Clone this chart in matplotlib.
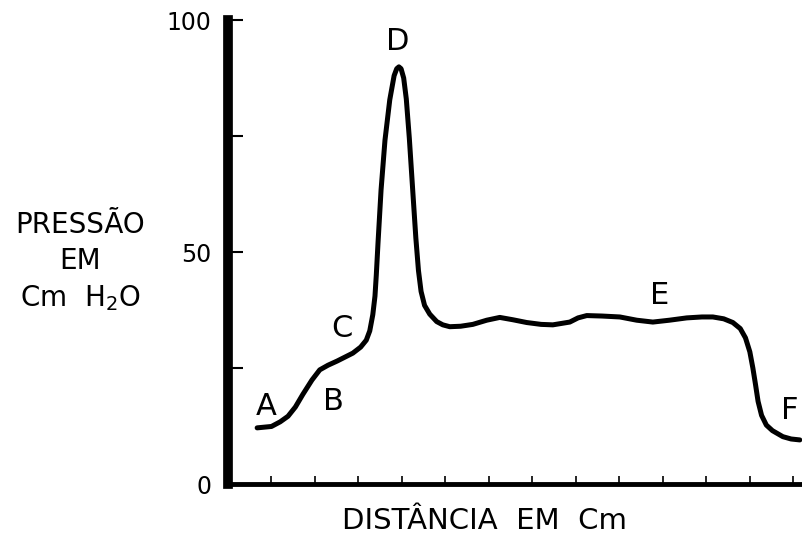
import matplotlib
matplotlib.use("Agg")
import matplotlib.pyplot as plt

# Curva de pressão (distância em cm, pressão em cm H2O)
distancia = [0.67, 1.00, 1.20, 1.38, 1.55, 1.72, 1.93, 2.11, 2.30, 2.51, 2.87,
             3.05, 3.18, 3.26, 3.33, 3.38, 3.41, 3.45, 3.52, 3.61, 3.72, 3.82,
             3.88, 3.93, 3.98, 4.04, 4.10, 4.17, 4.25, 4.32, 4.38, 4.44, 4.52,
             4.64, 4.80, 4.94, 5.10, 5.35, 5.63, 5.95, 6.25, 6.55, 6.87, 7.20,
             7.47, 7.86, 8.05, 8.25, 8.60, 9.01, 9.40, 9.77, 10.15, 10.55,
             10.90, 11.15, 11.40, 11.61, 11.78, 11.90, 12.00, 12.07, 12.13,
             12.19, 12.27, 12.38, 12.52, 12.76, 12.95, 13.15]
pressao = [12.1, 12.4, 13.4, 14.6, 16.6, 19.3, 22.4, 24.6, 25.6, 26.5, 28.2,
           29.5, 31.0, 33.0, 36.5, 40.5, 45.0, 52.0, 63.4, 74.1, 82.8, 88.0,
           89.5, 89.9, 89.5, 87.5, 83.0, 74.5, 63.0, 53.0, 46.0, 41.5, 38.5,
           36.6, 35.0, 34.3, 33.9, 34.0, 34.4, 35.3, 35.9, 35.4, 34.8, 34.4,
           34.3, 34.9, 35.8, 36.3, 36.2, 36.0, 35.3, 34.9, 35.3, 35.8, 36.0,
           36.0, 35.6, 34.8, 33.5, 31.5, 28.5, 25.0, 21.5, 17.8, 14.8, 12.7,
           11.5, 10.2, 9.7, 9.5]

# Pontos marcados (letra, distância, pressão)
letras = ["A", "B", "C", "D", "E", "F"]
letras_x = [0.88, 2.42, 2.62, 3.91, 9.93, 12.92]
letras_y = [16.8, 17.8, 33.5, 95.3, 40.7, 15.8]

y_ticks = [0, 25, 50, 75, 100]
y_labels = ["0", "", "50", "", "100"]
x_ticks = list(range(1, 14))

fig = plt.figure(figsize=(8.03, 5.41), dpi=100)
ax = fig.add_axes([228 / 803, 57 / 541, 574 / 803, 464 / 541])

ax.plot(distancia, pressao, color="black", linewidth=3.6,
        solid_joinstyle="round", solid_capstyle="round")

for letra, x, y in zip(letras, letras_x, letras_y):
    ax.text(x, y, letra, fontsize=22, ha="center", va="center",
            color="black", clip_on=False)

ax.set_xlim(0, 13.2)
ax.set_ylim(0, 100)

# Eixos grossos, como no desenho original
ax.spines["top"].set_visible(False)
ax.spines["right"].set_visible(False)
ax.spines["left"].set_linewidth(7)
ax.spines["bottom"].set_linewidth(3.5)

ax.set_yticks(y_ticks)
ax.set_yticklabels(y_labels)
ax.tick_params(axis="y", direction="in", length=11, width=1.5,
               labelsize=17, pad=12)
ax.set_xticks(x_ticks)
ax.set_xticklabels([])
ax.tick_params(axis="x", direction="in", length=6, width=1.2)

fig.text(80 / 803, 1 - 262 / 541, "PRESSÃO\nEM\nCm  H$_2$O",
         fontsize=20, ha="center", va="center",
         multialignment="center", linespacing=1.35)
fig.text(485 / 803, 1 - 521 / 541, "DISTÂNCIA  EM  Cm",
         fontsize=21, ha="center", va="center")

fig.savefig("out.png", dpi=100)
